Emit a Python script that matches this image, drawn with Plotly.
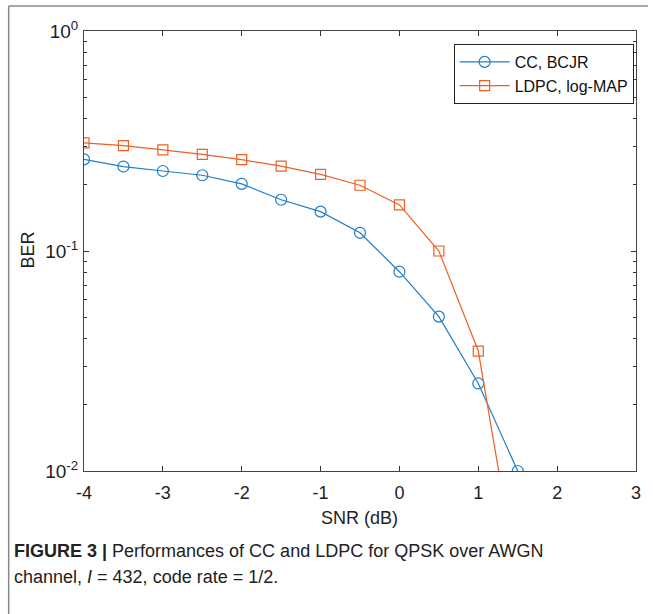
import plotly.graph_objects as go

snr = [-4, -3.5, -3, -2.5, -2, -1.5, -1, -0.5, 0, 0.5, 1, 1.5]
ber_cc = [0.261, 0.242, 0.231, 0.221, 0.202, 0.171, 0.151, 0.121, 0.0805, 0.0503, 0.025, 0.01]
ber_ldpc = [0.31, 0.301, 0.288, 0.275, 0.26, 0.243, 0.223, 0.199, 0.162, 0.1, 0.0351, 0.0031]

x_ticks = [-4, -3, -2, -1, 0, 1, 2, 3]
y_ticks = [0.01, 0.1, 1]
y_ticktext = ["10<sup>-2</sup>", "10<sup>-1</sup>", "10<sup>0</sup>"]
y_minor = [m * d for d in (0.01, 0.1) for m in range(2, 10)]

BLUE = "#1E7EC8"
ORANGE = "#EE5F24"
FONT = "Liberation Sans, Arial, sans-serif"

fig = go.Figure()
fig.add_trace(go.Scatter(
    x=snr, y=ber_cc, mode="lines+markers", name="CC, BCJR",
    line=dict(color=BLUE, width=1.2),
    marker=dict(symbol="circle-open", size=11, color=BLUE, line=dict(width=1.2)),
    cliponaxis=True,
))
fig.add_trace(go.Scatter(
    x=snr, y=ber_ldpc, mode="lines+markers", name="LDPC, log-MAP",
    line=dict(color=ORANGE, width=1.2),
    marker=dict(symbol="square-open", size=10, color=ORANGE, line=dict(width=1.2)),
    cliponaxis=True,
))

W, H = 653, 614
L, R, T, B = 84, 12, 31, 143
pw, ph = W - L - R, H - T - B

def px(x):
    return (x - L) / pw

def py(y):
    return (H - B - y) / ph

fig.update_layout(
    width=W, height=H,
    margin=dict(l=L, r=R, t=T, b=B, pad=0),
    paper_bgcolor="white", plot_bgcolor="white",
    font=dict(family=FONT, size=17, color="#222"),
    showlegend=True,
    legend=dict(
        x=px(457), y=py(44), xanchor="left", yanchor="top",
        bgcolor="white", bordercolor="#222", borderwidth=1,
        font=dict(family=FONT, size=16, color="#111"),
        itemwidth=50, tracegroupgap=0,
    ),
)
fig.update_xaxes(
    range=[-4, 3], tickvals=x_ticks, ticktext=[str(v) for v in x_ticks],
    ticks="inside", ticklen=5, tickcolor="#333", tickwidth=1,
    showline=True, linecolor="#444", linewidth=1, mirror="ticks",
    showgrid=False, zeroline=False, ticklabelstandoff=5,
    tickfont=dict(family=FONT, size=18, color="#222"),
)
fig.update_yaxes(
    type="log", range=[-2, 0], tickvals=y_ticks, ticktext=y_ticktext,
    ticks="inside", ticklen=5, tickcolor="#333", tickwidth=1,
    minor=dict(tickvals=y_minor, ticks="inside", ticklen=3, tickcolor="#333", showgrid=False),
    showline=True, linecolor="#444", linewidth=1, mirror="ticks",
    showgrid=False, zeroline=False, ticklabelstandoff=1,
    tickfont=dict(family=FONT, size=19, color="#222"),
)

# axis titles
fig.add_annotation(text="SNR (dB)", xref="paper", yref="paper", x=px(362), y=py(518),
                   showarrow=False, font=dict(family=FONT, size=18, color="#222"),
                   xanchor="center", yanchor="middle")
fig.add_annotation(text="BER", xref="paper", yref="paper", x=px(27), y=py(250),
                   showarrow=False, textangle=-90, font=dict(family=FONT, size=18, color="#222"),
                   xanchor="center", yanchor="middle")

# caption
fig.add_annotation(text="<b>FIGURE 3 |</b> Performances of CC and LDPC for QPSK over AWGN",
                   xref="paper", yref="paper", x=px(11), y=py(551),
                   showarrow=False, xanchor="left", yanchor="middle",
                   font=dict(family=FONT, size=18, color="#222"))
fig.add_annotation(text="channel, <i>I</i> = 432, code rate = 1/2.",
                   xref="paper", yref="paper", x=px(11), y=py(577),
                   showarrow=False, xanchor="left", yanchor="middle",
                   font=dict(family=FONT, size=18, color="#222"))

# frame lines (top and left)
fig.add_shape(type="line", xref="paper", yref="paper", x0=px(8), x1=px(653), y0=py(6), y1=py(6),
              line=dict(color="#888", width=1.5))
fig.add_shape(type="line", xref="paper", yref="paper", x0=px(8), x1=px(8), y0=py(6), y1=py(614),
              line=dict(color="#888", width=1.5))

fig.write_html("out.html")
